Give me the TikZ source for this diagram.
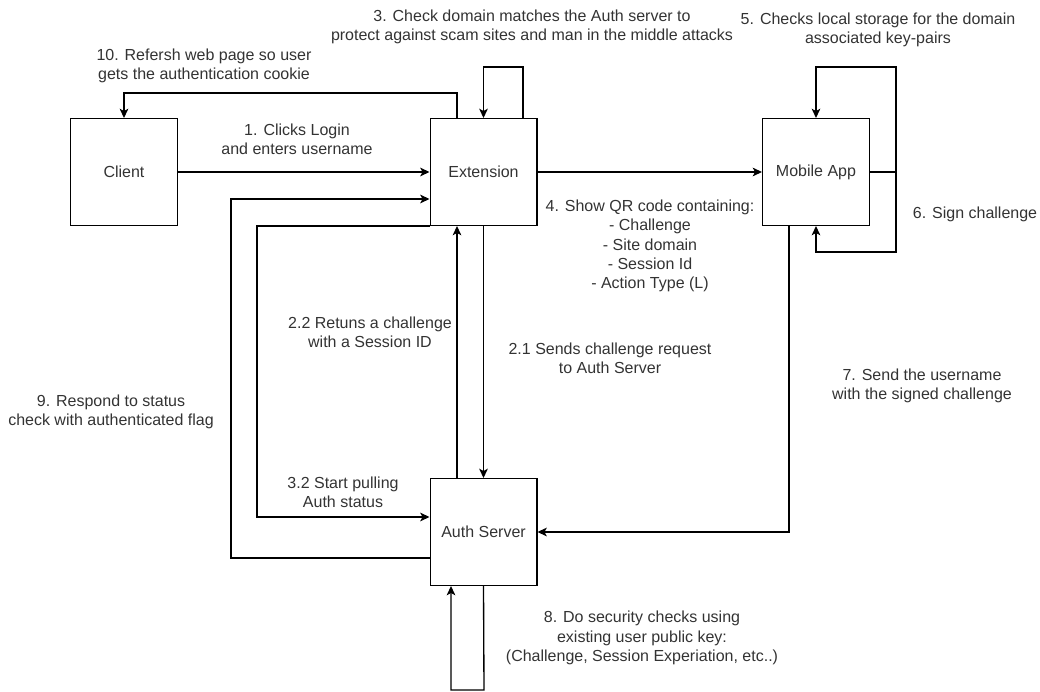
\documentclass[tikz,border=0pt]{standalone}
\usepackage{fontspec}
\setmainfont{Liberation Sans}
\usepackage{tikz}
\usetikzlibrary{calc, positioning, arrows.meta}
\usepackage{xcolor}
\definecolor{txtGray}{RGB}{51, 51, 51}
\definecolor{lineC}{RGB}{0, 0, 0}

\begin{document}
\begin{tikzpicture}[x=0.75pt, y=-0.75pt, >={Stealth[length=7pt, width=6.5pt, inset=1.8pt]},
    font=\fontsize{12}{14.4}\selectfont,
    box/.style={draw=lineC, line width=1pt, minimum width=80pt, minimum height=80pt,
                inner sep=0pt, text=txtGray},
    lbl/.style={align=center, text=txtGray, inner sep=0pt},
    flow/.style={->, line width=1pt, draw=lineC}]
  \useasboundingbox (0,0) rectangle (1040,692);

  % the four parties
  \node[box] (client) at (124,172) {Client};
  \node[box] (ext) at (483.5,172) {Extension};
  \node[box] (mob) at (816,172) {Mobile App};
  \node[box] (auth) at (483.5,532) {Auth Server};

  % bends of the connectors
  \coordinate (loopExt) at (523,67);
  \coordinate (back10) at (457,93);
  \coordinate (loopTop) at (896,67);
  \coordinate (loopBot) at (896,252);
  \coordinate (down7) at (789,532);
  \coordinate (up22) at (457,400);
  \coordinate (bend32) at (257,517);
  \coordinate (bend9a) at (231,558);
  \coordinate (bend9b) at (231,199);
  \coordinate (loop8a) at (484,690);
  \coordinate (loop8b) at (451,690);

  \draw[flow] (client) -- (ext);
  \draw[flow] (ext.north -| loopExt) -- (loopExt) -| (ext.north);
  \draw[flow] (ext.north -| back10) -- (back10) -| (client.north);
  \draw[flow] (ext) -- (mob);
  \draw[flow] (mob.east) -| (loopTop) -| (mob.north);
  \draw[flow] (mob.east) -| (loopBot) -| (mob.south);
  \draw[flow] (mob.south -| down7) -- (down7) -- (auth.east);
  \draw[flow] (ext.south) -- (auth.north);
  \draw[flow] (auth.north -| up22) -- (ext.south -| up22);
  \draw[flow] (ext.south west) -| (bend32) -- (auth.west |- bend32);
  \draw[flow] (auth.west |- bend9a) -- (bend9a) -- (bend9b) -- (ext.west |- bend9b);
  \draw[flow] (auth.south) -- (loop8a) -- (loop8b) -- (auth.south -| loop8b);

  % step labels
  \node[lbl] (l1) at (297,139) {1. Clicks Login\\and enters username};
  \node[lbl] (l21) at (610,358) {2.1 Sends challenge request\\to Auth Server};
  \node[lbl] (l22) at (370,332) {2.2 Retuns a challenge\\with a Session ID};
  \node[lbl] (l3) at (532,27) {3. Check domain matches the Auth server to\\protect against scam sites and man in the middle attacks};
  \node[lbl] (l32) at (343,492) {3.2 Start pulling\\Auth status};
  \node[lbl] (l4) at (650,246) {4. Show QR code containing:\\- Challenge\\- Site domain\\- Session Id\\- Action Type (L)};
  \node[lbl] (l5) at (878,30) {5. Checks local storage for the domain\\associated key-pairs};
  \node[lbl] (l6) at (975,214) {6. Sign challenge};
  \node[lbl] (l7) at (922,386) {7. Send the username\\with the signed challenge};
  \node[lbl] (l8) at (642,638) {8. Do security checks using\\existing user public key:\\(Challenge, Session Experiation, etc..)};
  \node[lbl] (l9) at (111,412) {9. Respond to status\\check with authenticated flag};
  \node[lbl] (l10) at (204,66) {10. Refersh web page so user\\gets the authentication cookie};
\end{tikzpicture}
\end{document}
